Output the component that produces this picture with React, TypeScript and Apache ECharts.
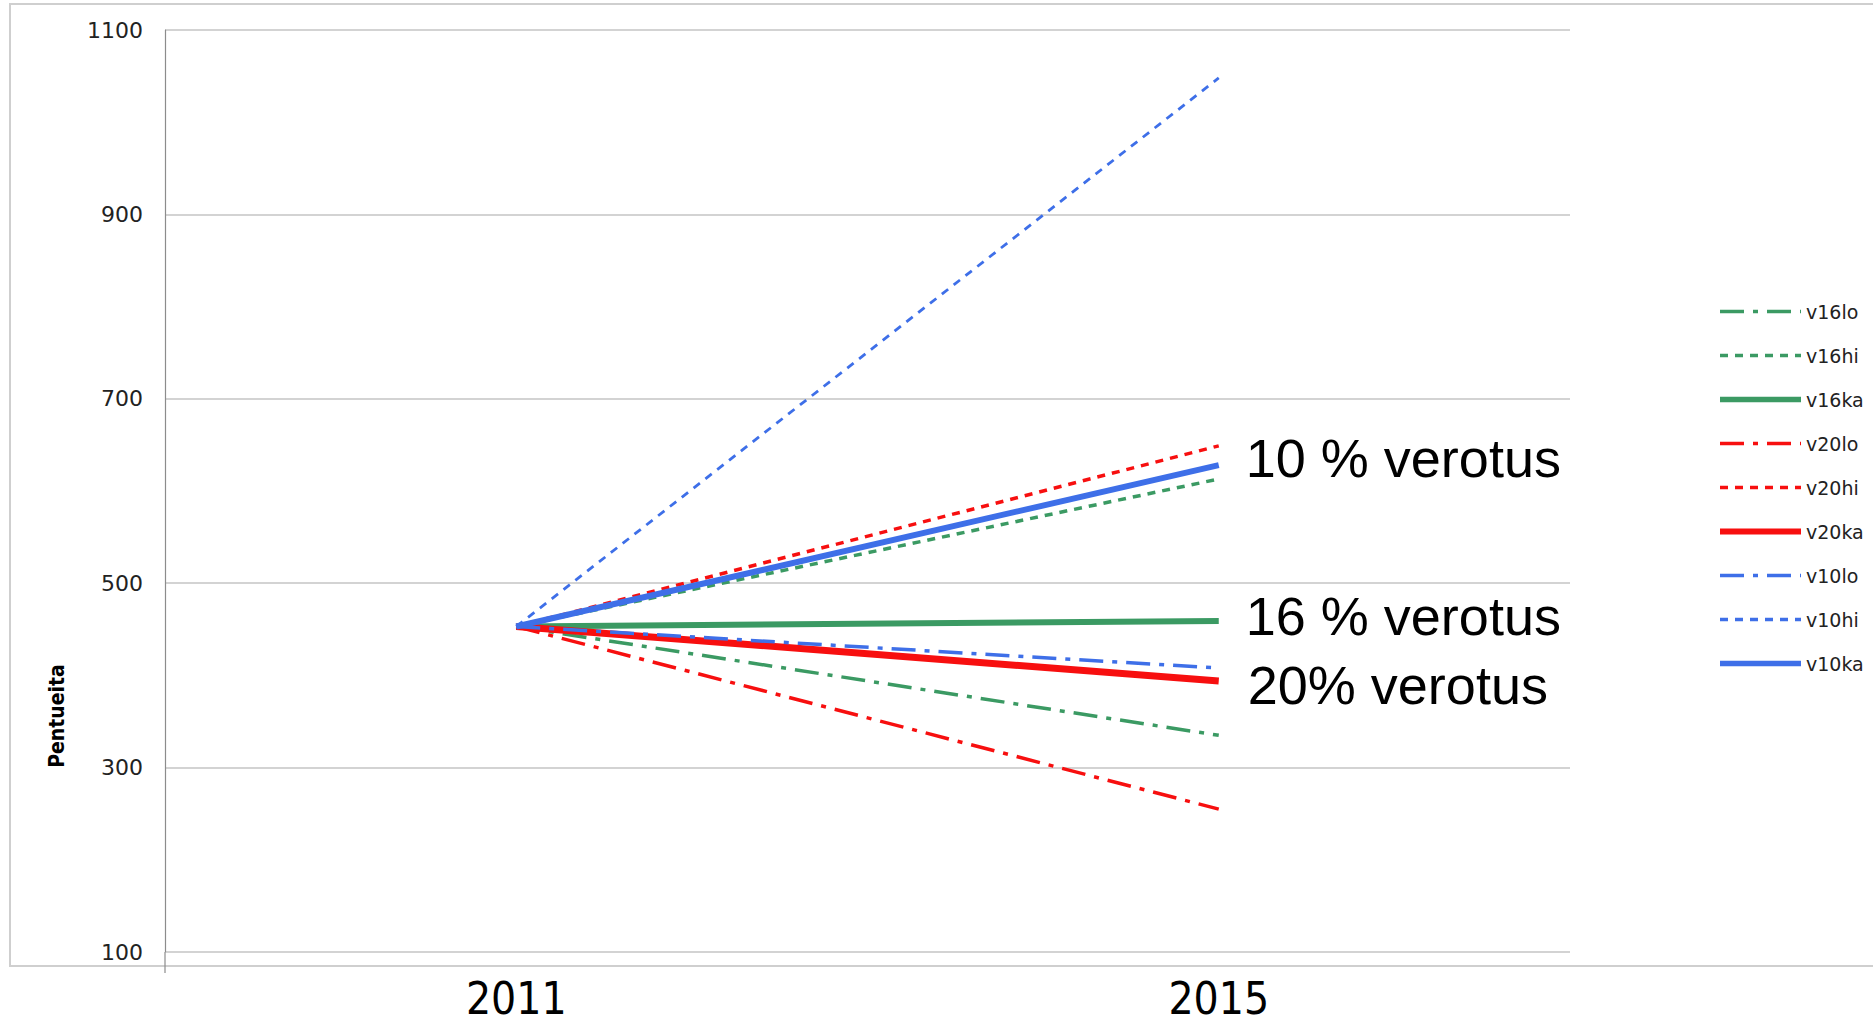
import React, { useEffect, useRef } from "react";
import * as echarts from "echarts";

const years = ["2011", "2015"];
const yTicks = { min: 100, max: 1100, interval: 200 };

const v16lo = [453, 335];
const v16hi = [453, 613];
const v16ka = [453, 459];
const v20lo = [453, 255];
const v20hi = [453, 649];
const v20ka = [453, 394];
const v10lo = [453, 408];
const v10hi = [453, 1048];
const v10ka = [453, 628];

const GREEN = "#3b9a63";
const RED = "#f70f0f";
const BLUE = "#3e6fe8";

const LONG_DASH_DOT = [24, 9, 5, 9];
const SHORT_DASH = [8, 7];

type S = {
  name: string;
  data: number[];
  color: string;
  width: number;
  type: any;
  legendWidth: number;
};

const seriesDefs: S[] = [
  { name: "v16lo", data: v16lo, color: GREEN, width: 3.5, type: LONG_DASH_DOT, legendWidth: 3.5 },
  { name: "v16hi", data: v16hi, color: GREEN, width: 3.5, type: SHORT_DASH, legendWidth: 3.5 },
  { name: "v16ka", data: v16ka, color: GREEN, width: 6, type: "solid", legendWidth: 5.5 },
  { name: "v20lo", data: v20lo, color: RED, width: 3.5, type: LONG_DASH_DOT, legendWidth: 3.5 },
  { name: "v20hi", data: v20hi, color: RED, width: 3.5, type: SHORT_DASH, legendWidth: 3.5 },
  { name: "v20ka", data: v20ka, color: RED, width: 7, type: "solid", legendWidth: 6 },
  { name: "v10lo", data: v10lo, color: BLUE, width: 3.5, type: LONG_DASH_DOT, legendWidth: 3.5 },
  { name: "v10hi", data: v10hi, color: BLUE, width: 2.8, type: SHORT_DASH, legendWidth: 3.5 },
  { name: "v10ka", data: v10ka, color: BLUE, width: 6, type: "solid", legendWidth: 5.5 },
];

const endTexts: Record<string, { text: string; offset: number[] }> = {
  v10ka: { text: "10 % verotus", offset: [0, -7] },
  v16ka: { text: "16 % verotus", offset: [0, -5] },
  v20ka: { text: "20% verotus", offset: [2, 4] },
};

const hiddenSymbol = { color: "rgba(0,0,0,0)", borderWidth: 0, opacity: 0 };

export default function App() {
  const ref = useRef<HTMLDivElement>(null);
  useEffect(() => {
    if (!ref.current) return;
    const chart = echarts.init(ref.current, null, { renderer: "svg" });
    const option: any = {
      animation: false,
      backgroundColor: "#ffffff",
      grid: { left: 165, right: 303, top: 30, bottom: 70 },
      xAxis: {
        type: "category",
        data: years,
        boundaryGap: true,
        axisLine: { show: false },
        axisTick: { show: false },
        splitLine: { show: false },
        axisLabel: {
          color: "#000",
          fontSize: 44,
          fontFamily: "'Liberation Sans Narrow', 'DejaVu Sans Condensed', sans-serif",
          margin: 24,
        },
      },
      yAxis: {
        type: "value",
        min: yTicks.min,
        max: yTicks.max,
        interval: yTicks.interval,
        axisLine: { show: true, lineStyle: { color: "#8c8c8c", width: 1.2 } },
        axisTick: { show: false },
        splitLine: { lineStyle: { color: "#c4c4c4", width: 1.5 } },
        axisLabel: {
          color: "#222",
          fontSize: 22,
          fontFamily: "'DejaVu Sans', sans-serif",
          margin: 22,
          formatter: (v: number) => String(v),
        },
      },
      legend: {
        orient: "vertical",
        left: 1712,
        top: 297,
        itemWidth: 81,
        itemHeight: 18,
        itemGap: 25,
        itemStyle: hiddenSymbol,
        textStyle: {
          fontSize: 19,
          lineHeight: 18,
          color: "#222",
          fontFamily: "'DejaVu Sans', sans-serif",
        },
        data: seriesDefs.map((s) => ({
          name: s.name,
          itemStyle: hiddenSymbol,
          lineStyle: { width: s.legendWidth, type: s.type, color: s.color },
        })),
      },
      series: seriesDefs.map((s) => {
        const et = endTexts[s.name];
        return {
          name: s.name,
          type: "line",
          data: s.data,
          symbol: "none",
          showSymbol: false,
          lineStyle: { color: s.color, width: s.width, type: s.type, cap: "butt" },
          itemStyle: { color: s.color },
          emphasis: { disabled: true },
          endLabel: et
            ? {
                show: true,
                formatter: et.text,
                color: "#000",
                fontSize: 54,
                fontFamily: "'Liberation Sans', Arial, sans-serif",
                distance: 27,
                offset: et.offset,
              }
            : { show: false },
        };
      }),
      graphic: [
        {
          type: "rect",
          shape: { x: 10, y: 4, width: 1880, height: 962 },
          style: { fill: "none", stroke: "#cfcfcf", lineWidth: 2 },
          silent: true,
          z: -1,
        },
        {
          type: "line",
          shape: { x1: 165, y1: 952, x2: 165, y2: 973 },
          style: { stroke: "#8c8c8c", lineWidth: 1.2 },
          silent: true,
        },
        {
          type: "text",
          x: 57,
          y: 716,
          rotation: Math.PI / 2,
          style: {
            text: "Pentueita",
            fontSize: 21,
            fontWeight: "bold",
            fontFamily: "'Liberation Sans Narrow', 'DejaVu Sans Condensed', sans-serif",
            fill: "#000",
            align: "center",
            verticalAlign: "middle",
          },
          silent: true,
        },
      ],
    };
    chart.setOption(option);
    return () => chart.dispose();
  }, []);
  return (
    <div
      ref={ref}
      style={{ position: "fixed", left: 0, top: 0, width: 1873, height: 1022, background: "#fff" }}
    />
  );
}
